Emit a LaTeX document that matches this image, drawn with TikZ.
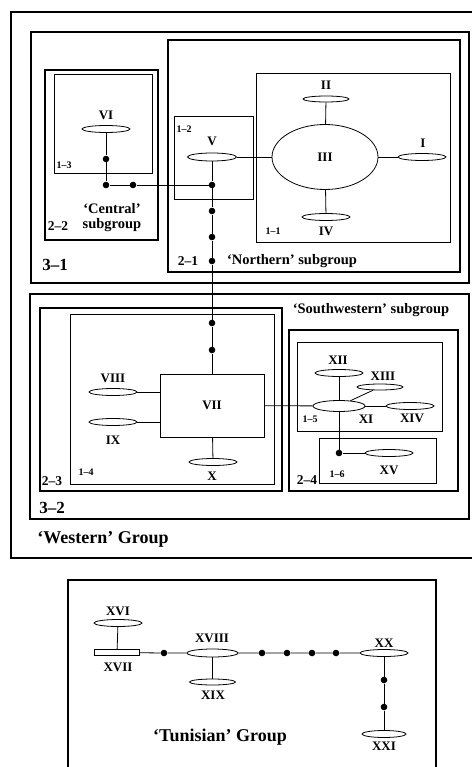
\documentclass[tikz,border=0pt]{standalone}
\usepackage{fontspec}
\setmainfont{Liberation Serif}
\usetikzlibrary{shapes.geometric}

\begin{document}
\begin{tikzpicture}[
    x=1pt,
    y=-1pt,
    font=\bfseries,
    frameA/.style={
        line width=2.4pt
    },
    frameB/.style={
        line width=1.9pt
    },
    frameC/.style={
        line width=0.9pt
    },
    link/.style={
        line width=0.8pt
    },
    isle/.style={
        draw,
        ellipse,
        line width=0.8pt,
        minimum width=48pt,
        minimum height=7pt,
        inner sep=0pt
    },
    junct/.style={
        circle,
        fill=black,
        minimum size=6.6pt,
        inner sep=0pt
    },
    numeral/.style={
        inner sep=0pt,
        font=\fontsize{13}{15}\selectfont\bfseries
    },
    tagA/.style={
        inner sep=0pt,
        font=\fontsize{10}{12}\selectfont\bfseries
    },
    tagB/.style={
        inner sep=0pt,
        font=\fontsize{13.5}{15}\selectfont\bfseries
    },
    tagC/.style={
        inner sep=0pt,
        font=\fontsize{17}{19}\selectfont\bfseries
    },
    subgrp/.style={
        inner sep=0pt,
        align=center,
        font=\fontsize{14.5}{15}\selectfont\bfseries
    },
    grp/.style={
        inner sep=0pt,
        font=\fontsize{18}{20}\selectfont\bfseries
    }
]
\useasboundingbox (0,0) rectangle (471,767);

\draw[frameA] (11,12) rectangle (476,558);
\draw[frameA] (31,32) rectangle (469,283);
\draw[frameB] (168,40) rectangle (460,272);
\draw[frameC] (256,73) rectangle (450,242);
\draw[frameC] (174,116) rectangle (253,199);
\draw[frameB] (45,70) rectangle (158,240);
\draw[frameC] (54,74) rectangle (152,173);
\draw[frameA] (30,294) rectangle (469,519);
\draw[frameB] (40,308) rectangle (282,491);
\draw[frameC] (70,314) rectangle (274,484);
\draw[frameB] (289,330) rectangle (458,491);
\draw[frameC] (297,342) rectangle (442,431);
\draw[frameC] (319,438) rectangle (436,483);
\draw[frameB] (68,580) rectangle (436,780);

\node[tagA] (t13) at (64,165) {1–3};
\node[tagA] (t12) at (184,129) {1–2};
\node[tagA] (t11) at (273,231) {1–1};
\node[tagA] (t14) at (86,472) {1–4};
\node[tagA] (t15) at (310,419) {1–5};
\node[tagA] (t16) at (337,474) {1–6};
\node[tagB] (t22) at (58,226) {2–2};
\node[tagB] (t21) at (188,261) {2–1};
\node[tagB] (t23) at (52,481) {2–3};
\node[tagB] (t24) at (307,480) {2–4};
\node[tagC] (t31) at (55,265) {3–1};
\node[tagC] (t32) at (52,508) {3–2};

\node[subgrp] (central) at (112,218) {‘Central’\\subgroup};
\node[subgrp] (northern) at (292,261) {‘Northern’ subgroup};
\node[subgrp] (southwest) at (371,310) {‘Southwestern’ subgroup};
\node[grp] (western) at (103,539) {‘Western’ Group};
\node[grp] (tunisian) at (220,737) {‘Tunisian’ Group};

\node[isle] (VI) at (106,129) {};
\node[isle, minimum width=49pt, minimum height=8pt] (V) at (212,157) {};
\node[isle, minimum width=106pt, minimum height=65pt, font=\fontsize{13}{15}\selectfont\bfseries] (III) at (325,157) {III};
\node[isle, minimum width=46pt, minimum height=6pt] (II) at (326,99) {};
\node[isle] (IV) at (326,217) {};
\node[isle] (I) at (422,157) {};
\node[draw, line width=0.8pt, minimum width=104pt, minimum height=63pt, font=\fontsize{13}{15}\selectfont\bfseries] (VII) at (212,405.5) {VII};
\node[isle] (VIII) at (113,392) {};
\node[isle] (IX) at (113,422) {};
\node[isle] (X) at (213,462) {};
\node[isle, minimum width=52pt, minimum height=11pt] (XI) at (339,406) {};
\node[isle] (XII) at (339,373) {};
\node[isle, minimum width=46pt, minimum height=6pt] (XIII) at (380,387) {};
\node[isle] (XIV) at (410,406) {};
\node[isle] (XV) at (389,453) {};
\node[isle] (XVI) at (118,623) {};
\node[draw, line width=0.8pt, minimum width=45pt, minimum height=5.5pt, inner sep=0pt] (XVII) at (117,652.5) {};
\node[isle, minimum width=51pt, minimum height=8pt] (XVIII) at (212.5,653) {};
\node[isle, minimum width=46pt, minimum height=6pt] (XIX) at (212.5,682) {};
\node[isle] (XX) at (384,653) {};
\node[isle, minimum width=44pt] (XXI) at (384,734) {};

\node[numeral] (lVI) at (106,115) {VI};
\node[numeral] (lV) at (212,141) {V};
\node[numeral] (lII) at (326,85) {II};
\node[numeral] (lI) at (423,143) {I};
\node[numeral] (lIV) at (326,231) {IV};
\node[numeral] (lVIII) at (113,378) {VIII};
\node[numeral] (lIX) at (113,440) {IX};
\node[numeral] (lX) at (212,476) {X};
\node[numeral] (lXI) at (366,419) {XI};
\node[numeral] (lXII) at (338,360) {XII};
\node[numeral] (lXIII) at (383,376) {XIII};
\node[numeral] (lXIV) at (412,418) {XIV};
\node[numeral] (lXV) at (389,470) {XV};
\node[numeral] (lXVI) at (118,611) {XVI};
\node[numeral] (lXVII) at (118,667) {XVII};
\node[numeral] (lXVIII) at (212,638) {XVIII};
\node[numeral] (lXIX) at (213,695) {XIX};
\node[numeral] (lXX) at (384,643) {XX};
\node[numeral] (lXXI) at (384,746) {XXI};

\node[junct] (j1) at (106,159) {};
\node[junct] (j2) at (106,185) {};
\node[junct] (j3) at (133,185) {};
\node[junct] (j4) at (212,185) {};
\node[junct] (j5) at (212,211) {};
\node[junct] (j6) at (212,237) {};
\node[junct] (j7) at (212,261) {};
\node[junct] (j8) at (212,323) {};
\node[junct] (j9) at (212,350) {};
\node[junct] (j10) at (339,453) {};
\node[junct] (j11) at (164,653) {};
\node[junct] (j12) at (262,653) {};
\node[junct] (j13) at (287,653) {};
\node[junct] (j14) at (312,653) {};
\node[junct] (j15) at (336,653) {};
\node[junct] (j16) at (384,680) {};
\node[junct] (j17) at (384,707) {};

\draw[link] (VI) -- (j1) -- (j2) -- (j3) -- (j4);
\draw[link] (V) -- (j4) -- (j5) -- (j6) -- (j7) -- (j8) -- (j9) -- (VII);
\draw[link] (V) -- (III);
\draw[link] (II) -- (III);
\draw[link] (III) -- (IV);
\draw[link] (III) -- (I);
\draw[link] (VIII) -- (VIII -| VII.west);
\draw[link] (IX) -- (IX -| VII.west);
\draw[link] (VII) -- (X);
\draw[link] (VII) -- (XI);
\draw[link] (XI) -- (XII);
\draw[link] (XI) -- (XIII);
\draw[link] (XI) -- (XIV);
\draw[link] (XI) -- (j10) -- (XV);
\draw[link] (XVI) -- (XVII);
\draw[link] (XVII) -- (j11) -- (XVIII) -- (j12) -- (j13) -- (j14) -- (j15) -- (XX);
\draw[link] (XVIII) -- (XIX);
\draw[link] (XX) -- (j16) -- (j17) -- (XXI);

\end{tikzpicture}
\end{document}
